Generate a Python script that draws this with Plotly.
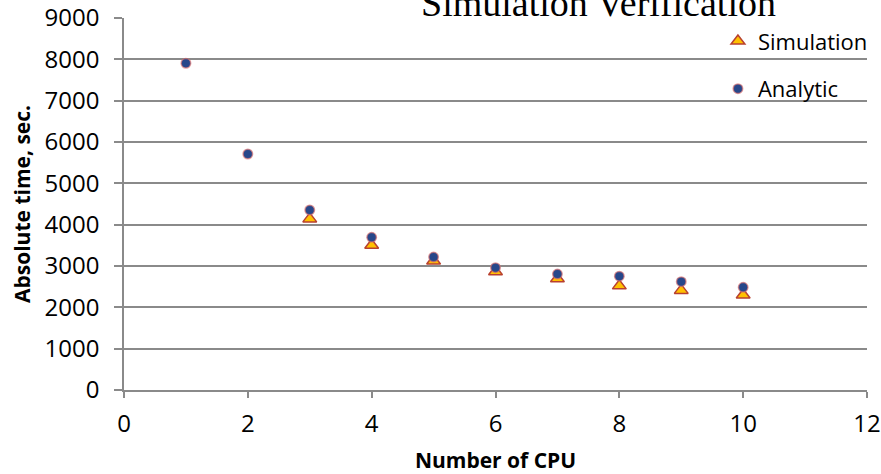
import plotly.graph_objects as go

cpus = [1, 2, 3, 4, 5, 6, 7, 8, 9, 10]
simulation = [None, None, 4140, 3500, 3120, 2860, 2690, 2520, 2410, 2300]
analytic = [7905, 5710, 4355, 3695, 3215, 2960, 2805, 2755, 2620, 2485]
x_ticks = [0, 2, 4, 6, 8, 10, 12]
y_ticks = [0, 1000, 2000, 3000, 4000, 5000, 6000, 7000, 8000, 9000]

FONT = "Open Sans"
GRID = "#8a8a8a"

fig = go.Figure()
fig.add_trace(go.Scatter(
    x=cpus, y=simulation, mode="markers", name="Simulation",
    legendgroup="a",
    marker=dict(symbol="triangle-up", size=12, color="#FFC000",
                line=dict(color="#B8402F", width=1.5)),
))
fig.add_trace(go.Scatter(
    x=cpus, y=analytic, mode="markers", name="Analytic",
    legendgroup="b",
    marker=dict(symbol="circle", size=9.5, color="#27478A",
                line=dict(color="rgba(215,110,110,0.65)", width=1.5)),
))

fig.update_layout(
    width=881, height=474,
    margin=dict(l=124, r=14, t=18, b=84, autoexpand=False),
    paper_bgcolor="white", plot_bgcolor="white",
    font=dict(family=FONT, color="#000000"),
    showlegend=True,
    legend=dict(
        x=1.008, xanchor="right", y=0.994, yanchor="top",
        font=dict(family=FONT, size=22, color="#000000"),
        bgcolor="rgba(0,0,0,0)", traceorder="grouped", tracegroupgap=16,
    ),
    xaxis=dict(
        range=[0, 12], tickvals=x_ticks, ticktext=[str(v) for v in x_ticks],
        showgrid=False, zeroline=False, automargin=False,
        showline=True, linecolor=GRID, linewidth=1.5,
        ticks="outside", ticklen=6, tickwidth=1.5, tickcolor=GRID,
        tickfont=dict(family=FONT, size=24, color="#000000"),
        ticklabelstandoff=5,
        title=dict(text="<b>Number of CPU</b>", font=dict(family=FONT, size=21, color="#000000"),
                   standoff=20),
    ),
    yaxis=dict(
        range=[0, 9000], tickvals=y_ticks, ticktext=[str(v) for v in y_ticks],
        showgrid=True, gridcolor=GRID, gridwidth=1.5, zeroline=False, automargin=False,
        showline=True, linecolor=GRID, linewidth=1.5,
        ticks="outside", ticklen=8, tickwidth=1.5, tickcolor=GRID,
        tickfont=dict(family=FONT, size=24, color="#000000"),
        ticklabelstandoff=10,
        title=dict(text="<b>Absolute time, sec.</b>", font=dict(family=FONT, size=21, color="#000000"),
                   standoff=8),
    ),
    annotations=[dict(
        text="Simulation Verification", xref="paper", yref="paper",
        x=0.638, y=1.0, xanchor="center", yanchor="bottom", yshift=-8,
        showarrow=False,
        font=dict(family="Liberation Serif", size=38, color="#000000"),
    )],
)

fig.write_html("out.html")
